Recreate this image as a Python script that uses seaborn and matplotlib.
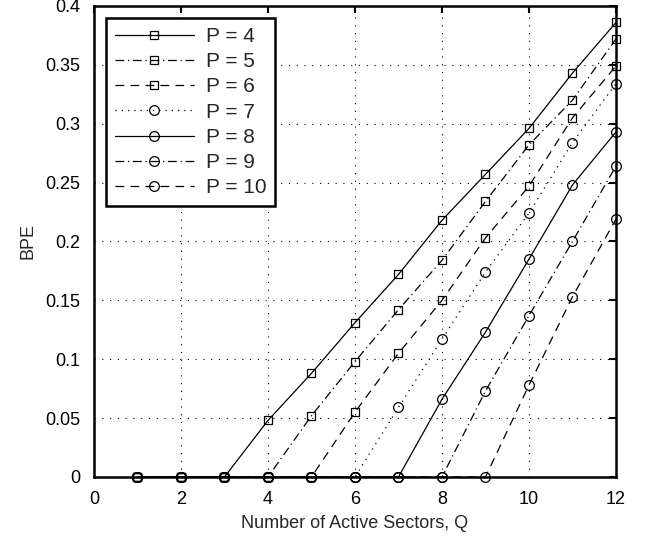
import matplotlib
matplotlib.use('Agg')
import matplotlib.pyplot as plt
import seaborn as sns

# values
Q = [1, 2, 3, 4, 5, 6, 7, 8, 9, 10, 11, 12]
bpe_p4 = [0, 0, 0, 0.048, 0.088, 0.131, 0.172, 0.218, 0.257, 0.296, 0.343, 0.386]
bpe_p5 = [0, 0, 0, 0, 0.052, 0.098, 0.142, 0.184, 0.234, 0.282, 0.320, 0.372]
bpe_p6 = [0, 0, 0, 0, 0, 0.055, 0.105, 0.150, 0.203, 0.247, 0.305, 0.349]
bpe_p7 = [0, 0, 0, 0, 0, 0, 0.059, 0.117, 0.174, 0.224, 0.284, 0.334]
bpe_p8 = [0, 0, 0, 0, 0, 0, 0, 0.066, 0.123, 0.185, 0.248, 0.293]
bpe_p9 = [0, 0, 0, 0, 0, 0, 0, 0, 0.073, 0.137, 0.200, 0.264]
bpe_p10 = [0, 0, 0, 0, 0, 0, 0, 0, 0, 0.078, 0.153, 0.219]

labels = ['P = 4', 'P = 5', 'P = 6', 'P = 7', 'P = 8', 'P = 9', 'P = 10']
series = [bpe_p4, bpe_p5, bpe_p6, bpe_p7, bpe_p8, bpe_p9, bpe_p10]
markers = ['s', 's', 's', 'o', 'o', 'o', 'o']
styles = ['-', (0, (7, 3, 1, 3)), (0, (7, 5)), (0, (1, 4)), '-', (0, (7, 3, 1, 3)), (0, (7, 5))]

sns.set_style('white')
plt.rcParams['font.family'] = ['Liberation Sans', 'DejaVu Sans']

fig = plt.figure(figsize=(6.45, 5.42), dpi=100)
ax = fig.add_axes([0.1457, 0.12, 0.8093, 0.869])

for vals, lab, mk, ls in zip(series, labels, markers, styles):
    sns.lineplot(x=Q, y=vals, ax=ax, color='k', linestyle=ls, linewidth=0.9,
                 marker=mk, markersize=7 if mk == 'o' else 6, markerfacecolor='none',
                 markeredgecolor='k', markeredgewidth=0.9, label=lab, clip_on=False)

ax.set_xlim(0, 12)
ax.set_ylim(0, 0.4)
ax.set_xticks([0, 2, 4, 6, 8, 10, 12])
ax.set_yticks([0, 0.05, 0.1, 0.15, 0.2, 0.25, 0.3, 0.35, 0.4])
ax.set_yticklabels(['0', '0.05', '0.1', '0.15', '0.2', '0.25', '0.3', '0.35', '0.4'])
ax.grid(True, color='k', linestyle=(0, (1, 6)), linewidth=0.8)
ax.tick_params(direction='in', length=5, width=1.5, top=True, right=True,
               labelsize=13, colors='k', pad=10)
for s in ax.spines.values():
    s.set_color('k')
    s.set_linewidth(1.8)
ax.set_xlabel('Number of Active Sectors, Q', fontsize=13, labelpad=5)
ax.set_ylabel('BPE', fontsize=13, labelpad=6)

leg = ax.legend(loc='upper left', fontsize=15, handlelength=3.8, handletextpad=0.6,
                labelspacing=0.3, borderaxespad=0.6, fancybox=False, framealpha=1,
                borderpad=0.4)
leg.get_frame().set_edgecolor('k')
leg.get_frame().set_linewidth(1.8)

fig.savefig('out.png', dpi=100)
